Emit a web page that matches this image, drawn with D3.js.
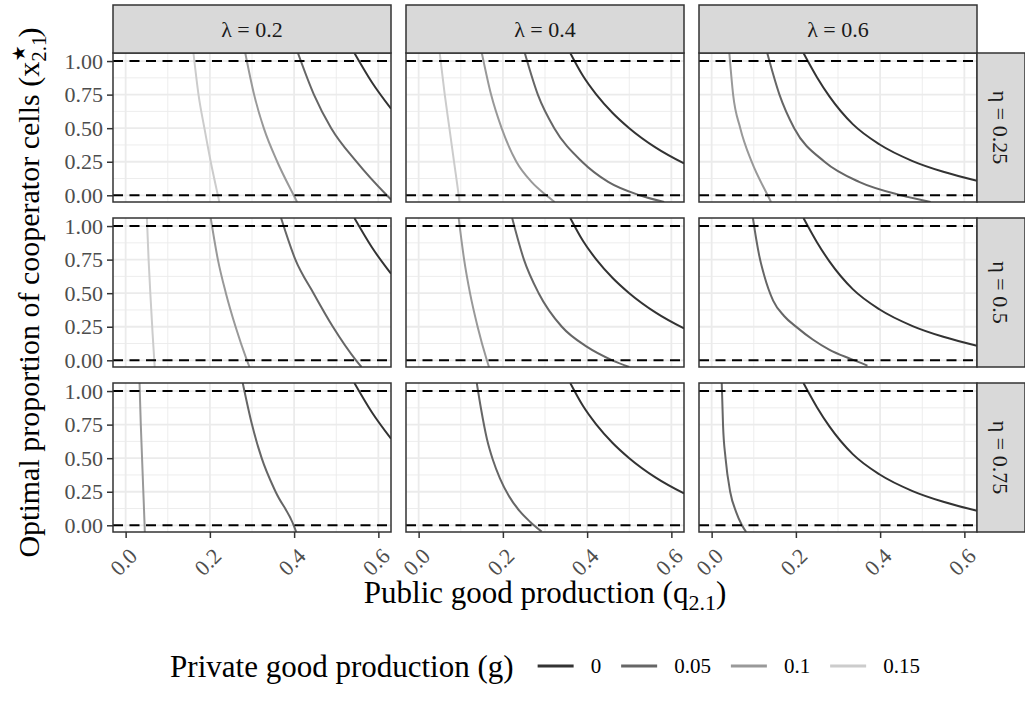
<!DOCTYPE html>
<html>
<head>
<meta charset="utf-8">
<script src="https://cdn.jsdelivr.net/npm/d3@7"></script>
<style>
  body { margin: 0; background: #fff; }
  svg { display: block; font-family: "Liberation Serif", "DejaVu Serif", serif; }
</style>
</head>
<body>
<svg id="drawing_region"></svg>
<script>
// facet levels
const lambdas = ['0.2', '0.4', '0.6'];
const etas = ['0.25', '0.5', '0.75'];
const gLevels = ['0', '0.05', '0.1', '0.15'];
const gColors = ['#333333', '#666666', '#999999', '#cccccc'];
const xTicks = [0, 0.2, 0.4, 0.6];
const yTicks = [0, 0.25, 0.5, 0.75, 1];

// curves, [q, x*] pairs; g = 0 is the same in every row
const dark_l02 = [[0.543,1.06],[0.585,0.84],[0.63,0.645]];
const dark_l04 = [[0.36,1.06],[0.39,0.89],[0.422,0.75],[0.46,0.615],[0.5,0.50],[0.563,0.355],[0.63,0.237]];
const dark_l06 = [[0.218,1.06],[0.25,0.88],[0.28,0.735],[0.335,0.53],[0.398,0.38],[0.477,0.255],[0.55,0.175],[0.63,0.108]];

const e025_l02 = [
  {g:'0', pts: dark_l02},
  {g:'0.05', pts: [[0.409,1.06],[0.447,0.75],[0.488,0.5],[0.548,0.25],[0.62,0],[0.636,-0.05]]},
  {g:'0.1', pts: [[0.284,1.06],[0.305,0.75],[0.328,0.5],[0.36,0.25],[0.399,0],[0.407,-0.05]]},
  {g:'0.15', pts: [[0.161,1.06],[0.173,0.75],[0.187,0.5],[0.202,0.25],[0.219,0],[0.2225,-0.05]]}
];
const e025_l04 = [
  {g:'0', pts: dark_l04},
  {g:'0.05', pts: [[0.252,1.06],[0.283,0.75],[0.322,0.5],[0.388,0.25],[0.45,0.1],[0.525,0],[0.583,-0.05]]},
  {g:'0.1', pts: [[0.15,1.06],[0.172,0.75],[0.197,0.5],[0.232,0.25],[0.268,0.1],[0.303,0],[0.323,-0.05]]},
  {g:'0.15', pts: [[0.05,1.06],[0.062,0.75],[0.073,0.5],[0.084,0.25],[0.095,0],[0.097,-0.05]]}
];
const e025_l06 = [
  {g:'0', pts: dark_l06},
  {g:'0.05', pts: [[0.132,1.06],[0.161,0.75],[0.196,0.5],[0.268,0.25],[0.35,0.1],[0.45,0],[0.52,-0.05]]},
  {g:'0.1', pts: [[0.042,1.06],[0.051,0.75],[0.068,0.5],[0.095,0.25],[0.133,0],[0.141,-0.05]]}
];
const e05_l02 = [
  {g:'0', pts: dark_l02},
  {g:'0.05', pts: [[0.369,1.06],[0.403,0.75],[0.446,0.5],[0.492,0.25],[0.547,0],[0.56,-0.05]]},
  {g:'0.1', pts: [[0.202,1.06],[0.219,0.75],[0.238,0.5],[0.261,0.25],[0.288,0],[0.294,-0.05]]},
  {g:'0.15', pts: [[0.0505,1.06],[0.0545,0.75],[0.0595,0.45],[0.064,0.2],[0.068,0],[0.069,-0.05]]}
];
const e05_l04 = [
  {g:'0', pts: dark_l04},
  {g:'0.05', pts: [[0.222,1.06],[0.25,0.75],[0.285,0.5],[0.34,0.25],[0.4,0.1],[0.46,0],[0.5,-0.05]]},
  {g:'0.1', pts: [[0.095,1.06],[0.108,0.75],[0.122,0.5],[0.14,0.25],[0.162,0],[0.167,-0.05]]}
];
const e05_l06 = [
  {g:'0', pts: dark_l06},
  {g:'0.05', pts: [[0.098,1.06],[0.106,0.9],[0.113,0.78],[0.125,0.63],[0.146,0.445],[0.172,0.33],
                   [0.201,0.249],[0.24,0.155],[0.28,0.078],[0.33,0.01],[0.37,-0.04]]}
];
const e075_l02 = [
  {g:'0', pts: dark_l02},
  {g:'0.05', pts: [[0.278,1.06],[0.3,0.75],[0.323,0.5],[0.356,0.25],[0.399,0],[0.405,-0.05]]},
  {g:'0.1', pts: [[0.033,1.06],[0.036,0.75],[0.039,0.5],[0.042,0.25],[0.045,0],[0.0455,-0.05]]}
];
const e075_l04 = [
  {g:'0', pts: dark_l04},
  {g:'0.05', pts: [[0.138,1.06],[0.148,0.87],[0.162,0.645],[0.176,0.49],[0.193,0.35],[0.214,0.22],
                   [0.24,0.105],[0.265,0.025],[0.292,-0.047]]}
];
const e075_l06 = [
  {g:'0', pts: dark_l06},
  {g:'0.05', pts: [[0.024,1.06],[0.027,0.75],[0.033,0.5],[0.044,0.25],[0.058,0.1],[0.072,0],[0.082,-0.05]]}
];

const panels = [
  [e025_l02, e025_l04, e025_l06],
  [e05_l02, e05_l04, e05_l06],
  [e075_l02, e075_l04, e075_l06]
];

const config = {
  width: 1025, height: 705,
  left: 113, top: 53,
  panel_w: 278, panel_h: 149,
  col_step: 293, row_step: 165,
  strip: 48
};

const svg = d3.select('#drawing_region')
  .attr('width', config.width)
  .attr('height', config.height);

const xscale = d3.scaleLinear().domain([-0.03, 0.63]).range([0, config.panel_w]);
const yscale = d3.scaleLinear().domain([-0.05, 1.06]).range([config.panel_h, 0]);
const color = d3.scaleOrdinal().domain(gLevels).range(gColors);

const line = d3.line()
  .x(d => xscale(d[0]))
  .y(d => yscale(d[1]))
  .curve(d3.curveMonotoneX);

const grid_col = '#ebebeb';
const serif = '"Liberation Serif", "DejaVu Serif", serif';

panels.forEach((row, r) => {
  row.forEach((curves, c) => {
    const px = config.left + c * config.col_step;
    const py = config.top + r * config.row_step;
    const g = svg.append('g').attr('transform', `translate(${px},${py})`);

    g.append('rect').attr('width', config.panel_w).attr('height', config.panel_h).attr('fill', '#fff');

    // grid
    [0.1, 0.3, 0.5].forEach(v => g.append('line')
      .attr('x1', xscale(v)).attr('x2', xscale(v)).attr('y1', 0).attr('y2', config.panel_h)
      .attr('stroke', grid_col).attr('stroke-width', 0.9));
    [0.125, 0.375, 0.625, 0.875].forEach(v => g.append('line')
      .attr('y1', yscale(v)).attr('y2', yscale(v)).attr('x1', 0).attr('x2', config.panel_w)
      .attr('stroke', grid_col).attr('stroke-width', 0.9));
    xTicks.forEach(v => g.append('line')
      .attr('x1', xscale(v)).attr('x2', xscale(v)).attr('y1', 0).attr('y2', config.panel_h)
      .attr('stroke', grid_col).attr('stroke-width', 1.8));
    yTicks.forEach(v => g.append('line')
      .attr('y1', yscale(v)).attr('y2', yscale(v)).attr('x1', 0).attr('x2', config.panel_w)
      .attr('stroke', grid_col).attr('stroke-width', 1.8));

    const clip_id = `clip_${r}_${c}`;
    g.append('clipPath').attr('id', clip_id)
      .append('rect').attr('width', config.panel_w).attr('height', config.panel_h);

    const inner = g.append('g').attr('clip-path', `url(#${clip_id})`);

    inner.selectAll('path.curve')
      .data(curves)
      .enter()
      .append('path')
      .attr('class', 'curve')
      .attr('d', d => line(d.pts))
      .attr('fill', 'none')
      .attr('stroke', d => color(d.g))
      .attr('stroke-width', 2);

    [0, 1].forEach(v => inner.append('line')
      .attr('x1', 0).attr('x2', config.panel_w)
      .attr('y1', yscale(v)).attr('y2', yscale(v))
      .attr('stroke', '#000').attr('stroke-width', 2)
      .attr('stroke-dasharray', '10,6.5'));

    g.append('rect').attr('width', config.panel_w).attr('height', config.panel_h)
      .attr('fill', 'none').attr('stroke', '#333').attr('stroke-width', 1.5);

    // y axis on first column
    if (c === 0) {
      const ya = g.append('g').call(d3.axisLeft(yscale).tickValues(yTicks)
        .tickFormat(d3.format('.2f')).tickSize(6).tickPadding(4));
      ya.attr('font-family', null);
      ya.select('.domain').remove();
      ya.selectAll('line').attr('stroke', '#333').attr('stroke-width', 1.5);
      ya.selectAll('text').attr('fill', '#4d4d4d').style('font-size', '22px')
        .style('font-family', serif);
    }
    // x axis on last row
    if (r === panels.length - 1) {
      const xa = g.append('g').attr('transform', `translate(0,${config.panel_h})`)
        .call(d3.axisBottom(xscale).tickValues(xTicks)
          .tickFormat(d3.format('.1f')).tickSize(6));
      xa.attr('font-family', null);
      xa.select('.domain').remove();
      xa.selectAll('line').attr('stroke', '#333').attr('stroke-width', 1.5);
      xa.selectAll('text')
        .attr('fill', '#4d4d4d').style('font-size', '22px')
        .style('font-family', serif)
        .attr('text-anchor', 'end')
        .attr('x', 0).attr('y', 0).attr('dy', '0.35em')
        .attr('transform', 'translate(7,20) rotate(-45)');
    }
  });
});

// column strips
lambdas.forEach((lam, c) => {
  const px = config.left + c * config.col_step;
  const sg = svg.append('g').attr('transform', `translate(${px},${config.top - config.strip})`);
  sg.append('rect').attr('width', config.panel_w).attr('height', config.strip)
    .attr('fill', '#d9d9d9').attr('stroke', '#333').attr('stroke-width', 1.5);
  sg.append('text').attr('x', config.panel_w / 2).attr('y', config.strip / 2)
    .attr('dy', '0.35em').attr('text-anchor', 'middle')
    .attr('fill', '#1a1a1a').style('font-size', '22px')
    .text(`λ = ${lam}`);
});

// row strips
etas.forEach((eta, r) => {
  const px = config.left + 2 * config.col_step + config.panel_w;
  const py = config.top + r * config.row_step;
  const sg = svg.append('g').attr('transform', `translate(${px},${py})`);
  sg.append('rect').attr('width', config.strip).attr('height', config.panel_h)
    .attr('fill', '#d9d9d9').attr('stroke', '#333').attr('stroke-width', 1.5);
  sg.append('text')
    .attr('transform', `translate(${config.strip / 2},${config.panel_h / 2}) rotate(90)`)
    .attr('dy', '0.35em').attr('text-anchor', 'middle')
    .attr('fill', '#1a1a1a').style('font-size', '22px')
    .text(`η = ${eta}`);
});

// axis titles
const panels_mid_x = config.left + (2 * config.col_step + config.panel_w) / 2;
const panels_mid_y = config.top + (2 * config.row_step + config.panel_h) / 2;

const xt = svg.append('text')
  .attr('x', panels_mid_x).attr('y', 603)
  .attr('text-anchor', 'middle').attr('fill', '#000').style('font-size', '31px');
xt.append('tspan').text('Public good production (q');
xt.append('tspan').attr('dy', 7).style('font-size', '22px').text('2.1');
xt.append('tspan').attr('dy', -7).text(')');

const yt = svg.append('text')
  .attr('transform', `translate(39,${panels_mid_y}) rotate(-90)`)
  .attr('text-anchor', 'middle').attr('fill', '#000').style('font-size', '30px');
yt.append('tspan').text('Optimal proportion of cooperator cells (x');
yt.append('tspan').attr('dy', 7).style('font-size', '21px').text('2.1');
yt.append('tspan').attr('dx', -26).attr('dy', -21).style('font-size', '18px')
  .style('font-family', '"DejaVu Sans", sans-serif').text('★');
yt.append('tspan').attr('dx', 8).attr('dy', 14).text(')');

// legend, centred under the panels
const key_len = 36;
const legend = svg.append('g');
const ltitle = legend.append('text').attr('dy', '0.35em')
  .attr('fill', '#000').style('font-size', '31px').text('Private good production (g)');
let cursor = ltitle.node().getComputedTextLength() + 24;
gLevels.forEach((lv, i) => {
  legend.append('line').attr('x1', cursor).attr('x2', cursor + key_len)
    .attr('stroke', color(lv)).attr('stroke-width', 3);
  cursor += key_len + 17;
  const lt = legend.append('text').attr('x', cursor).attr('dy', '0.35em')
    .attr('fill', '#000').style('font-size', '21px').text(lv);
  cursor += lt.node().getComputedTextLength() + (i < gLevels.length - 1 ? 20 : 0);
});
legend.attr('transform', `translate(${panels_mid_x - cursor / 2},666)`);
</script>
</body>
</html>
